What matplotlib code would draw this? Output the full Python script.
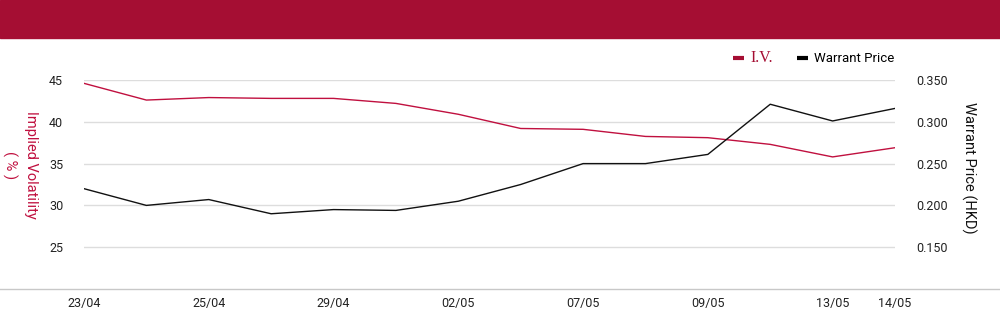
import matplotlib
matplotlib.use('Agg')
import matplotlib.pyplot as plt
from matplotlib.patches import Rectangle
from matplotlib.lines import Line2D

# data
dates = ['23/04', '24/04', '25/04', '26/04', '29/04', '30/04', '02/05',
         '03/05', '07/05', '08/05', '09/05', '10/05', '13/05', '14/05']
iv = [44.6, 42.6, 42.9, 42.8, 42.8, 42.2, 40.9,
      39.2, 39.1, 38.25, 38.1, 37.3, 35.8, 36.9]
price = [0.220, 0.200, 0.207, 0.190, 0.195, 0.194, 0.205,
         0.225, 0.250, 0.250, 0.261, 0.321, 0.301, 0.316]
shown_ticks = [0, 2, 4, 6, 8, 10, 12, 13]

RED = '#a50e33'
LINE_RED = '#c0103f'
W, H = 1000, 324

plt.rcParams['font.family'] = ['Roboto', 'DejaVu Sans']

fig = plt.figure(figsize=(10, 3.24), dpi=100)

# header band and bottom rule
fig.patches.append(Rectangle((0, 1 - 38 / H), 1, 38 / H, transform=fig.transFigure,
                             color=RED, zorder=0))
fig.add_artist(Line2D([0, 1], [35 / H, 35 / H], transform=fig.transFigure,
                      color='#c8c8c8', lw=1))

ax = fig.add_axes([84 / W, 35 / H, 811 / W, 209 / H])
x = list(range(len(dates)))
ax.plot(x, iv, color=LINE_RED, lw=1)
ax.set_ylim(20, 45)
ax.set_yticks([25, 30, 35, 40, 45])
ax.set_xlim(0, len(dates) - 1)
ax.set_xticks(shown_ticks)
ax.set_xticklabels([dates[i] for i in shown_ticks])
ax.grid(axis='y', color='#dddddd', lw=1)
ax.set_axisbelow(True)
for s in ax.spines.values():
    s.set_visible(False)
ax.tick_params(axis='x', length=0, labelsize=9, colors='#222222', pad=6)
ax.tick_params(axis='y', length=0, labelsize=9, colors='#222222', pad=15)

ax2 = ax.twinx()
ax2.plot(x, price, color='#111111', lw=1)
ax2.set_ylim(0.10, 0.35)
ax2.set_yticks([0.15, 0.20, 0.25, 0.30, 0.35])
ax2.set_yticklabels(['0.150', '0.200', '0.250', '0.300', '0.350'])
for s in ax2.spines.values():
    s.set_visible(False)
ax2.tick_params(axis='y', length=0, labelsize=9, colors='#222222', pad=15)

# axis titles
fig.text(20 / W, 1 - 165 / H, 'Implied Volatility\n( % )', color=LINE_RED, fontsize=10.5,
         rotation=270, ha='center', va='center', multialignment='center', linespacing=1.5)
fig.text(969 / W, 1 - 168 / H, 'Warrant Price (HKD)', color='#111111', fontsize=10.5,
         rotation=270, ha='center', va='center')

# legend
ly = 1 - 58 / H
fig.add_artist(Line2D([733 / W, 744 / W], [ly, ly], transform=fig.transFigure,
                      color=RED, lw=3, solid_capstyle='butt'))
fig.text(750 / W, ly, 'I.V.', color=RED, fontsize=11.5, va='center',
         family='Liberation Serif')
fig.add_artist(Line2D([797 / W, 808 / W], [ly, ly], transform=fig.transFigure,
                      color='black', lw=3, solid_capstyle='butt'))
fig.text(814 / W, ly, 'Warrant Price', color='black', fontsize=9.5, va='center')

fig.savefig('out.png', dpi=100)
